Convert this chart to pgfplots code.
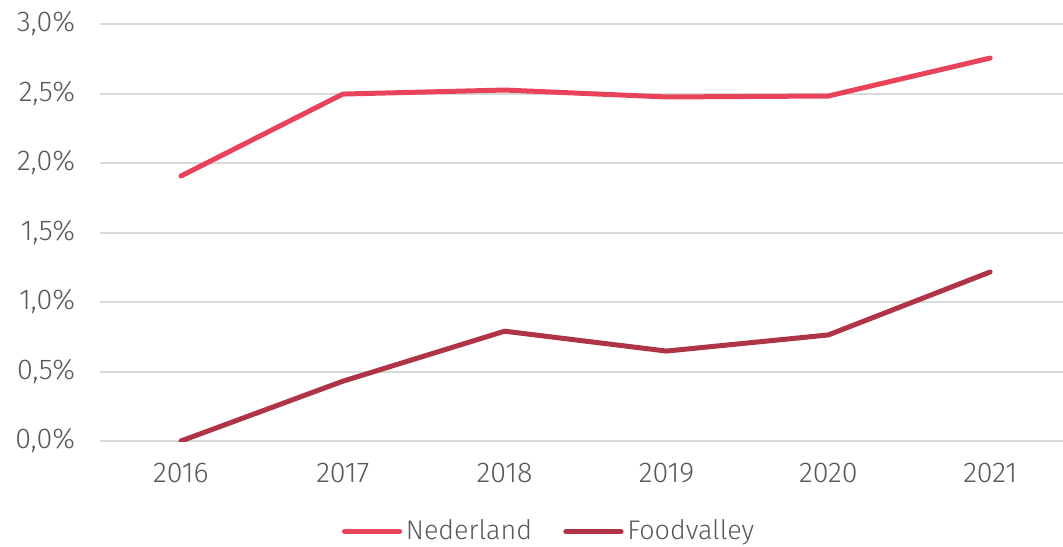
\documentclass[border=0pt]{standalone}
\usepackage{pgfplots}
\pgfplotsset{compat=1.18}
\usepackage{fontspec}
\setmainfont{Fira Sans Light}
\definecolor{ned}{HTML}{E8435A}
\definecolor{fv}{HTML}{B03448}
\definecolor{txt}{HTML}{595959}
\definecolor{grd}{HTML}{D9D9D9}
\begin{document}
\fontsize{11.5}{13}\selectfont
\begin{tikzpicture}
\begin{axis}[
  at={(0,0)}, anchor=south west,
  scale only axis,
  width=385.2bp, height=166.8bp,
  xmin=-0.5, xmax=5.45,
  ymin=0, ymax=3,
  ytick={0,0.5,...,3},
  xtick={0,1,2,3,4,5},
  xticklabels={2016,2017,2018,2019,2020,2021},
  axis line style={draw=none},
  major tick length=0pt,
  ymajorgrids,
  grid style={grd, line width=0.8bp},
  tick label style={font=\fontsize{11.5}{13}\selectfont, text=txt},
  /pgf/number format/assume math mode=true,
  yticklabel={\pgfmathprintnumber[fixed,fixed zerofill,precision=1,use comma]{\tick}\%},
  yticklabel style={xshift=-6bp},
  xticklabel style={yshift=-5bp},
  legend style={at={(axis description cs:0.5,0)}, anchor=center, yshift=-36.2bp, xshift=-12.6bp,
    draw=none, fill=none, legend columns=2, font=\fontsize{10.8}{12}\selectfont, text=txt,
    nodes={inner xsep=1.5bp, inner ysep=1bp},
    /tikz/every even column/.append style={column sep=11bp}},
  legend cell align=left,
  legend image code/.code={\draw[#1, line cap=round] (0cm,0cm) -- (0.78cm,0cm);},
]
\addplot[ned, line width=2bp, line cap=round, line join=round] coordinates {
(0,1.906) (1,2.496) (2,2.525) (3,2.475) (4,2.482) (5,2.755)};
\addlegendentry{Nederland}
\addplot[fv, line width=2bp, line cap=round, line join=round] coordinates {
(0,0.0) (1,0.43) (2,0.79) (3,0.647) (4,0.763) (5,1.216)};
\addlegendentry{Foodvalley}
\end{axis}
\pgfresetboundingbox
\path (-40bp,-42.4bp) rectangle (385.2bp,176.4bp);
\end{tikzpicture}
\end{document}
